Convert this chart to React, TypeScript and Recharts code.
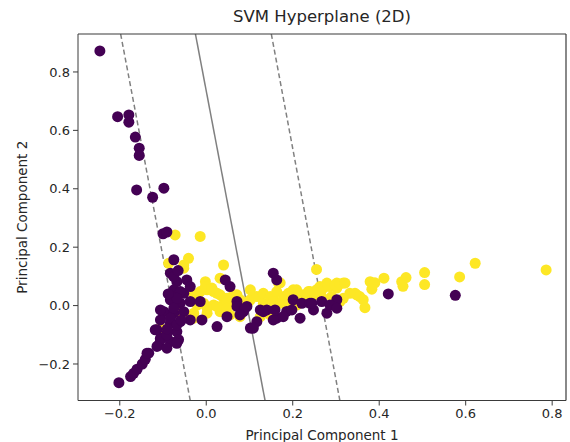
import React from 'react';
import { ScatterChart, Scatter, XAxis, YAxis, ReferenceLine, Label } from 'recharts';

const class0Points: [number, number][] = [
  [-0.246, 0.872],
  [-0.205, 0.647], [-0.179, 0.653], [-0.179, 0.628], [-0.164, 0.577], [-0.155, 0.539], [-0.155, 0.514],
  [-0.161, 0.396], [-0.124, 0.371], [-0.098, 0.402],
  [-0.1, 0.246], [-0.091, 0.252],
  [-0.075, 0.157],
  [-0.202, -0.264], [-0.175, -0.243], [-0.168, -0.232], [-0.16, -0.218], [-0.148, -0.2], [-0.141, -0.184], [-0.133, -0.163], [-0.11, -0.135], [-0.106, -0.112],
  [-0.083, 0.111], [-0.068, 0.082], [-0.045, 0.088], [-0.075, 0.054], [-0.052, 0.042], [-0.037, 0.065],
  [-0.083, 0.02], [-0.06, 0.008], [-0.037, 0.014], [-0.098, -0.021], [-0.075, -0.026], [-0.052, -0.021],
  [-0.106, -0.049], [-0.083, -0.06], [-0.06, -0.055], [-0.037, -0.049], [-0.114, -0.083], [-0.091, -0.095], [-0.068, -0.089],
  [-0.106, -0.117], [-0.083, -0.123], [-0.064, -0.117], [-0.114, -0.14], [-0.091, -0.146], [-0.137, -0.163],
  [-0.075, 0.099], [-0.06, 0.048], [-0.068, 0.025], [-0.075, -0.009], [-0.083, -0.043], [-0.068, -0.066], [-0.091, -0.1], [-0.068, -0.129],
  [-0.106, -0.015], [-0.118, -0.083], [-0.065, 0.12], [-0.088, 0.04], [-0.09, -0.08], [-0.058, -0.05],
  [-0.014, 0.014], [0.055, 0.065], [0.044, 0.088], [0.071, 0.014], [0.094, -0.003],
  [-0.01, -0.049], [0.025, -0.072], [0.048, -0.038], [0.071, -0.003], [0.102, -0.077], [0.117, -0.055], [0.086, -0.021],
  [0.14, -0.015], [0.163, -0.043], [0.186, -0.02], [0.217, -0.043], [0.248, -0.015], [0.267, 0.014], [0.279, -0.026],
  [0.302, 0.02], [0.201, 0.02], [0.09, -0.009], [0.078, -0.032], [0.125, -0.015], [0.221, 0.008], [0.24, 0.008], [0.286, 0.002], [0.302, -0.009],
  [0.106, -0.077], [0.178, -0.038], [0.155, -0.049], [0.109, -0.077], [0.132, -0.021], [0.159, -0.015], [0.198, -0.015], [0.244, 0.008],
  [0.155, 0.111], [0.163, 0.088],
  [0.421, 0.04], [0.576, 0.035],
];

const class1Points: [number, number][] = [
  [-0.072, 0.242], [-0.014, 0.237],
  [-0.087, 0.145], [-0.041, 0.162], [-0.052, 0.139], [-0.052, 0.128], [0.04, 0.139], [0.032, 0.094], [-0.002, 0.082],
  [-0.106, -0.077], [-0.068, -0.021],
  [-0.021, 0.037], [0.002, 0.054], [0.025, 0.042], [0.04, 0.025], [0.063, 0.037], [0.078, 0.02],
  [-0.006, 0.008], [0.017, 0.002], [0.04, -0.003], [0.063, 0.008], [0.086, 0.002], [0.102, 0.02], [0.117, 0.031],
  [0.132, 0.008], [0.155, 0.025], [0.171, 0.008], [0.194, 0.037], [0.209, 0.002], [0.232, 0.02], [0.248, 0.042],
  [0.263, 0.065], [0.279, 0.077], [0.302, 0.077], [0.317, 0.077], [0.332, 0.042], [0.348, 0.037], [0.309, 0.014],
  [-0.029, -0.026], [0.002, -0.026], [0.032, -0.021], [0.055, -0.032], [0.078, -0.038], [0.125, -0.038], [0.148, -0.032],
  [-0.029, 0.037], [-0.014, 0.048], [0.017, 0.048], [0.032, 0.037], [0.048, 0.025], [-0.021, 0.002], [0.002, -0.009],
  [0.025, -0.003], [0.048, -0.009], [-0.002, 0.065], [0.013, 0.06], [-0.029, -0.043], [-0.037, -0.043], [-0.064, -0.023],
  [0.167, 0.077], [0.171, 0.078], [0.255, 0.124],
  [0.071, 0.037], [0.102, 0.054], [0.132, 0.042], [0.148, 0.031], [0.163, 0.048], [0.179, 0.031], [0.19, 0.042],
  [0.209, 0.054], [0.221, 0.037], [0.24, 0.048], [0.255, 0.054], [0.271, 0.06], [0.286, 0.065], [0.302, 0.06],
  [0.082, 0.002], [0.098, 0.014], [0.155, 0.014], [0.186, 0.014], [0.232, 0.014], [0.294, 0.02],
  [0.282, 0.068], [0.298, 0.071], [0.309, 0.074], [0.321, 0.077], [0.29, 0.031], [0.317, 0.025], [0.267, 0.031],
  [0.201, 0.054], [0.217, 0.031], [0.236, 0.048], [0.252, 0.037], [0.178, 0.02], [0.194, 0.031],
  [0.344, 0.042], [0.355, 0.031], [0.363, 0.02], [0.367, -0.007],
  [0.379, 0.082], [0.39, 0.078], [0.383, 0.056], [0.411, 0.094],
  [0.452, 0.082], [0.462, 0.096], [0.455, 0.066],
  [0.505, 0.113], [0.505, 0.072], [0.586, 0.098], [0.622, 0.145], [0.786, 0.122],
];

const xTicks = [-0.2, 0, 0.2, 0.4, 0.6, 0.8];
const yTicks = [-0.2, 0, 0.2, 0.4, 0.6, 0.8];
const xDomain: [number, number] = [-0.2966, 0.832];
const yDomain: [number, number] = [-0.325, 0.93];

const hyperplane: [number, number][] = [[-0.025, 0.93], [0.136, -0.325]];
const marginLower: [number, number][] = [[-0.198, 0.93], [-0.037, -0.325]];
const marginUpper: [number, number][] = [[0.1505, 0.93], [0.309, -0.325]];

const PURPLE = '#440154';
const YELLOW = '#fde725';
const FONT = '"DejaVu Sans", sans-serif';
const TEXT = '#262626';
const SPINE = '#3a3a3a';

const fmt = (v: number) => (v < 0 ? '\u2212' : '') + Math.abs(v).toFixed(1);
const toObjs = (pts: [number, number][]) => pts.map(([x, y]) => ({ x, y }));

const dot = (color: string) => (props: any) => (
  <circle cx={props.cx} cy={props.cy} r={5.5} fill={color} />
);

export default function App() {
  const tickStyle = { fontSize: 13, fill: TEXT, fontFamily: FONT };
  return (
    <div style={{ position: 'fixed', top: 0, left: 0, width: 570, height: 442, background: '#fff' }}>
      <div
        style={{
          position: 'absolute',
          top: 8,
          left: 322,
          transform: 'translateX(-50%)',
          fontFamily: FONT,
          fontSize: 16.5,
          lineHeight: '18px',
          color: TEXT,
          whiteSpace: 'nowrap',
        }}
      >
        SVM Hyperplane (2D)
      </div>
      <ScatterChart width={570} height={442} margin={{ top: 34, right: 4, bottom: 0, left: 0 }}>
        <XAxis
          type="number"
          dataKey="x"
          domain={xDomain}
          ticks={xTicks}
          tickFormatter={fmt}
          allowDataOverflow
          height={41.5}
          tickSize={5}
          tickMargin={3}
          stroke={SPINE}
          tick={tickStyle}
        >
          <Label
            content={(p: any) => {
              const vb = p.viewBox;
              return (
                <text
                  x={vb.x + vb.width / 2}
                  y={vb.y + vb.height - 2}
                  textAnchor="middle"
                  fontSize={13.5}
                  fontFamily={FONT}
                  fill={TEXT}
                >
                  Principal Component 1
                </text>
              );
            }}
          />
        </XAxis>
        <YAxis
          type="number"
          dataKey="y"
          domain={yDomain}
          ticks={yTicks}
          tickFormatter={fmt}
          allowDataOverflow
          width={78}
          tickSize={5}
          tickMargin={3}
          stroke={SPINE}
          tick={tickStyle}
        >
          <Label
            content={(p: any) => {
              const vb = p.viewBox;
              const cx = 22;
              const cy = vb.y + vb.height / 2;
              return (
                <text
                  x={cx}
                  y={cy}
                  transform={`rotate(-90 ${cx} ${cy})`}
                  textAnchor="middle"
                  dominantBaseline="central"
                  fontSize={13.5}
                  fontFamily={FONT}
                  fill={TEXT}
                >
                  Principal Component 2
                </text>
              );
            }}
          />
        </YAxis>
        <Scatter data={toObjs(class1Points)} shape={dot(YELLOW)} isAnimationActive={false} />
        <Scatter data={toObjs(class0Points)} shape={dot(PURPLE)} isAnimationActive={false} />
        <ReferenceLine segment={toObjs(marginLower)} stroke="#808080" strokeWidth={1.5} strokeDasharray="5 3" ifOverflow="hidden" />
        <ReferenceLine segment={toObjs(hyperplane)} stroke="#808080" strokeWidth={1.5} ifOverflow="hidden" />
        <ReferenceLine segment={toObjs(marginUpper)} stroke="#808080" strokeWidth={1.5} strokeDasharray="5 3" ifOverflow="hidden" />
        <ReferenceLine y={yDomain[1]} stroke={SPINE} strokeWidth={1.2} ifOverflow="visible" />
        <ReferenceLine x={xDomain[1]} stroke={SPINE} strokeWidth={1.2} ifOverflow="visible" />
      </ScatterChart>
    </div>
  );
}
